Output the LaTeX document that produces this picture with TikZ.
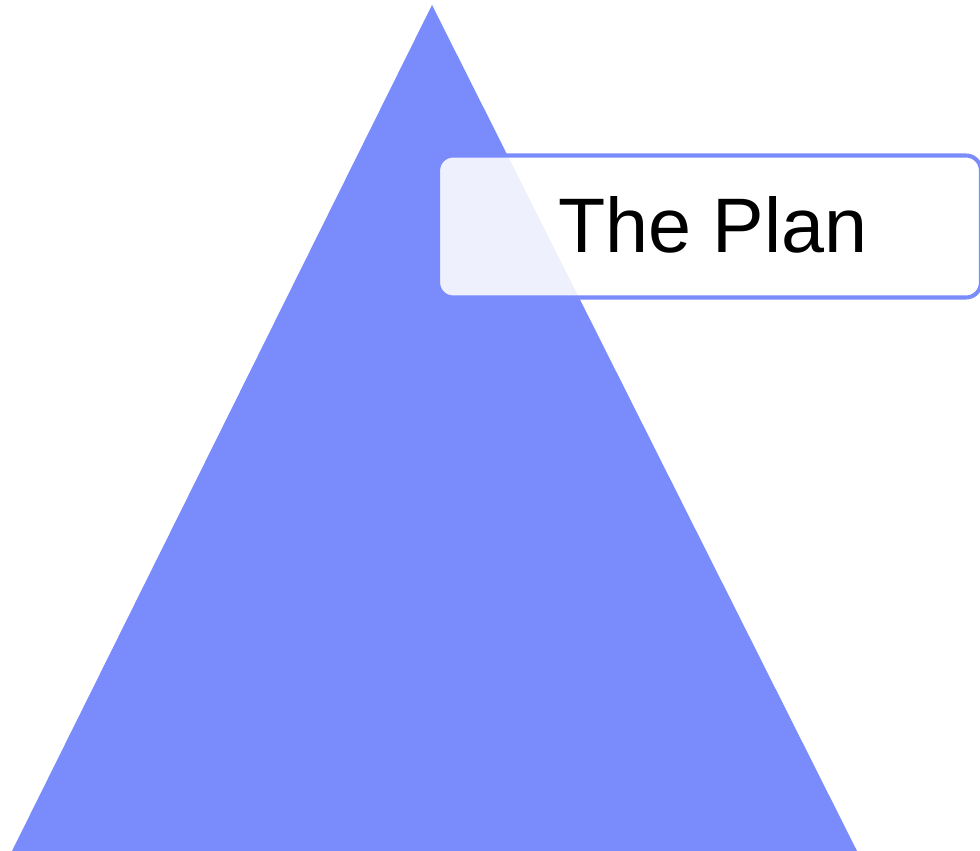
\documentclass[tikz,border=0pt]{standalone}
\usepackage{fontspec}
\setmainfont{Liberation Sans}
\definecolor{planblue}{RGB}{122,139,252}
\begin{document}
\begin{tikzpicture}[x=0.02cm,y=-0.02cm]
      \useasboundingbox (0,0) rectangle (980,851);
      \begin{scope}
        \clip (0,0) rectangle (980,851);
        \fill[planblue] (432,5) -- (12,851) -- (857,851) -- cycle;
      \end{scope}
      \node[draw=planblue, line width=2.3pt, fill=white, fill opacity=0.88, text opacity=1,
            rounded corners=0.3cm, minimum width=10.86cm, minimum height=2.84cm,
            font=\fontsize{44}{52}\selectfont, inner sep=0pt]
        (plan) at (709.5,226.5) {\hspace*{0.14cm}\raisebox{0.1cm}{The Plan}};
    \end{tikzpicture}
\end{document}
